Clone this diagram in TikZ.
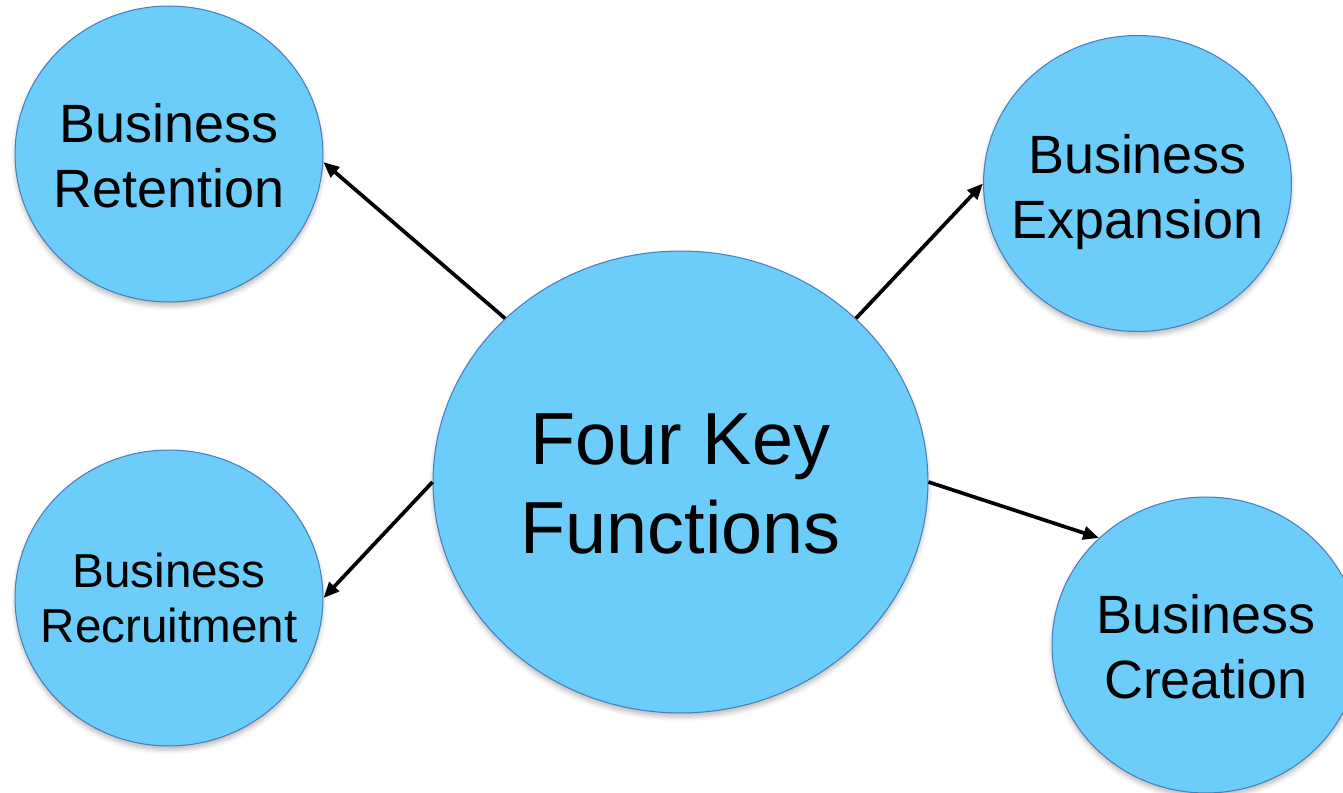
\documentclass[tikz,border=0pt]{standalone}
\usepackage{fontspec}
\setmainfont{Liberation Sans}
\usepackage{xcolor}
\definecolor{bubbleBlue}{HTML}{6DCDFA}
\definecolor{rimBlue}{HTML}{4A7EBB}
\usetikzlibrary{shapes.geometric,arrows.meta,positioning,shadows.blur}

\begin{document}
\begin{tikzpicture}[x=0.02cm,y=-0.02cm,>={Triangle[length=9pt,width=7.5pt]},
    bubble/.style={ellipse,draw=rimBlue,line width=0.6pt,fill=bubbleBlue,inner sep=0pt,
      blur shadow={shadow xshift=0pt,shadow yshift=-2.5pt,shadow opacity=25,shadow blur radius=2.5pt}},
    small/.style={bubble,minimum width=6.16cm,minimum height=5.92cm},
    hub/.style={bubble,minimum width=9.9cm,minimum height=9.24cm},
    smalltext/.style={align=center,font=\fontsize{30.7pt}{37pt}\selectfont},
    tighttext/.style={align=center,font=\fontsize{27.1pt}{31.8pt}\selectfont},
    hubtext/.style={align=center,font=\fontsize{42pt}{50.6pt}\selectfont},
    link/.style={->,line width=2.1pt}]
  \useasboundingbox (0,0) rectangle (1343,793);
  % outer functions
  \node[small,label={[smalltext,yshift=-0.04cm]center:Business\\Retention}] (ret) at (169,154) {};
  \node[small,label={[smalltext,yshift=-0.18cm]center:Business\\Expansion}] (exp) at (1137.5,183.5) {};
  \node[small,label={[tighttext]center:Business\\Recruitment}] (rec) at (169,598) {};
  \node[small,label={[smalltext,yshift=-0.04cm]center:Business\\Creation}] (cre) at (1206,645) {};
  % hub
  \node[hub,label={[hubtext,yshift=-0.04cm]center:Four Key\\Functions}] (key) at (680.5,482) {};
  \draw[link] (key.137) -- (ret.-3);
  \draw[link] (key.43) -- (exp.west);
  \draw[link] (key.west) -- (rec.east);
  \draw[link] (key.east) -- (cre.135);
\end{tikzpicture}
\end{document}
